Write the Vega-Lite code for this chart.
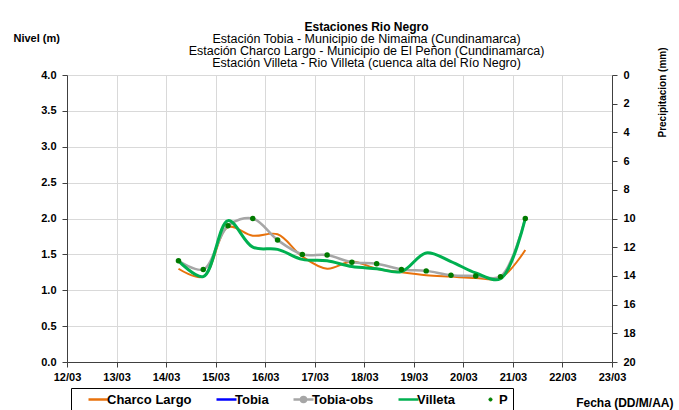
{
  "$schema": "https://vega.github.io/schema/vega-lite/v6.json",
  "width": 545,
  "height": 287,
  "autosize": {"type": "none"},
  "padding": {"left": 67, "top": 75, "right": 67, "bottom": 48},
  "background": "white",
  "title": {
    "text": "Estaciones Rio Negro",
    "subtitle": ["Estación Tobia - Municipio de Nimaima (Cundinamarca)", "Estación Charco Largo - Municipio de El Peñon (Cundinamarca)", "Estación Villeta -  Rio Villeta (cuenca alta del Río Negro)"],
    "anchor": "middle",
    "frame": "group",
    "dx": 27,
    "dy": 44,
    "offset": 6,
    "font": "Liberation Sans",
    "fontSize": 12,
    "fontWeight": "bold",
    "color": "black",
    "subtitleFont": "Liberation Sans",
    "subtitleFontSize": 12.5,
    "subtitleColor": "black",
    "subtitleLineHeight": 12,
    "subtitlePadding": -1
  },
  "config": {
    "view": {"stroke": null},
    "font": "Liberation Sans",
    "axis": {
      "labelFont": "Liberation Sans",
      "labelFontSize": 11,
      "labelFontWeight": "bold",
      "labelColor": "black",
      "labelOverlap": false,
      "titleFont": "Liberation Sans",
      "titleFontSize": 11,
      "titleFontWeight": "bold",
      "titleColor": "black",
      "domainColor": "#404040",
      "tickColor": "#404040",
      "tickSize": 5,
      "gridColor": "#D9D9D9",
      "gridWidth": 1
    },
    "legend": {
      "orient": "none",
      "legendX": 4,
      "legendY": 313,
      "direction": "horizontal",
      "strokeColor": "black",
      "strokeWidth": 1,
      "padding": 5,
      "labelFont": "Liberation Sans",
      "labelFontSize": 13,
      "labelFontWeight": "bold",
      "labelColor": "black",
      "symbolType": "stroke",
      "symbolSize": 400,
      "symbolStrokeWidth": 2.5,
      "symbolOffset": 16,
      "columnPadding": 12,
      "gridAlign": "none",
      "labelOffset": 2
    }
  },
  "data": {
    "values": [
      {"fecha": "2011-03-14T06:00:00", "serie": "Charco Largo", "nivel": 1.30},
      {"fecha": "2011-03-14T18:00:00", "serie": "Charco Largo", "nivel": 1.19},
      {"fecha": "2011-03-15T06:00:00", "serie": "Charco Largo", "nivel": 1.88},
      {"fecha": "2011-03-15T18:00:00", "serie": "Charco Largo", "nivel": 1.76},
      {"fecha": "2011-03-16T06:00:00", "serie": "Charco Largo", "nivel": 1.78},
      {"fecha": "2011-03-16T18:00:00", "serie": "Charco Largo", "nivel": 1.47},
      {"fecha": "2011-03-17T06:00:00", "serie": "Charco Largo", "nivel": 1.30},
      {"fecha": "2011-03-17T18:00:00", "serie": "Charco Largo", "nivel": 1.40},
      {"fecha": "2011-03-18T06:00:00", "serie": "Charco Largo", "nivel": 1.30},
      {"fecha": "2011-03-18T18:00:00", "serie": "Charco Largo", "nivel": 1.25},
      {"fecha": "2011-03-19T06:00:00", "serie": "Charco Largo", "nivel": 1.21},
      {"fecha": "2011-03-19T18:00:00", "serie": "Charco Largo", "nivel": 1.19},
      {"fecha": "2011-03-20T06:00:00", "serie": "Charco Largo", "nivel": 1.17},
      {"fecha": "2011-03-20T18:00:00", "serie": "Charco Largo", "nivel": 1.17},
      {"fecha": "2011-03-21T06:00:00", "serie": "Charco Largo", "nivel": 1.56},
      {"fecha": "2011-03-14T06:00:00", "serie": "Tobia-obs", "nivel": 1.41},
      {"fecha": "2011-03-14T18:00:00", "serie": "Tobia-obs", "nivel": 1.29},
      {"fecha": "2011-03-15T06:00:00", "serie": "Tobia-obs", "nivel": 1.90},
      {"fecha": "2011-03-15T18:00:00", "serie": "Tobia-obs", "nivel": 2.00},
      {"fecha": "2011-03-16T06:00:00", "serie": "Tobia-obs", "nivel": 1.70},
      {"fecha": "2011-03-16T18:00:00", "serie": "Tobia-obs", "nivel": 1.50},
      {"fecha": "2011-03-17T06:00:00", "serie": "Tobia-obs", "nivel": 1.49},
      {"fecha": "2011-03-17T18:00:00", "serie": "Tobia-obs", "nivel": 1.39},
      {"fecha": "2011-03-18T06:00:00", "serie": "Tobia-obs", "nivel": 1.37},
      {"fecha": "2011-03-18T18:00:00", "serie": "Tobia-obs", "nivel": 1.29},
      {"fecha": "2011-03-19T06:00:00", "serie": "Tobia-obs", "nivel": 1.27},
      {"fecha": "2011-03-19T18:00:00", "serie": "Tobia-obs", "nivel": 1.21},
      {"fecha": "2011-03-20T06:00:00", "serie": "Tobia-obs", "nivel": 1.20},
      {"fecha": "2011-03-20T18:00:00", "serie": "Tobia-obs", "nivel": 1.19},
      {"fecha": "2011-03-21T06:00:00", "serie": "Tobia-obs", "nivel": 2.00},
      {"fecha": "2011-03-14T06:00:00", "serie": "Villeta", "nivel": 1.41},
      {"fecha": "2011-03-14T18:00:00", "serie": "Villeta", "nivel": 1.19},
      {"fecha": "2011-03-15T06:00:00", "serie": "Villeta", "nivel": 1.97},
      {"fecha": "2011-03-15T18:00:00", "serie": "Villeta", "nivel": 1.60},
      {"fecha": "2011-03-16T06:00:00", "serie": "Villeta", "nivel": 1.57},
      {"fecha": "2011-03-16T18:00:00", "serie": "Villeta", "nivel": 1.43},
      {"fecha": "2011-03-17T06:00:00", "serie": "Villeta", "nivel": 1.41},
      {"fecha": "2011-03-17T18:00:00", "serie": "Villeta", "nivel": 1.33},
      {"fecha": "2011-03-18T06:00:00", "serie": "Villeta", "nivel": 1.30},
      {"fecha": "2011-03-18T18:00:00", "serie": "Villeta", "nivel": 1.26},
      {"fecha": "2011-03-19T06:00:00", "serie": "Villeta", "nivel": 1.52},
      {"fecha": "2011-03-19T18:00:00", "serie": "Villeta", "nivel": 1.40},
      {"fecha": "2011-03-20T06:00:00", "serie": "Villeta", "nivel": 1.24},
      {"fecha": "2011-03-20T18:00:00", "serie": "Villeta", "nivel": 1.16},
      {"fecha": "2011-03-21T06:00:00", "serie": "Villeta", "nivel": 2.00}
    ]
  },
  "layer": [
    {
      "mark": {"type": "line", "interpolate": "catmull-rom"},
      "encoding": {
        "x": {
          "field": "fecha",
          "type": "temporal",
          "scale": {"domain": [{"year": 2011, "month": "mar", "date": 12}, {"year": 2011, "month": "mar", "date": 23}]},
          "axis": {
            "format": "%d/%m",
            "tickCount": {"interval": "day", "step": 1},
            "labelFlush": false,
            "labelPadding": 4,
            "grid": true,
            "title": "Fecha (DD/M/AA)",
            "titleFontSize": 12,
            "titleAngle": 0,
            "titleAlign": "right",
            "titleBaseline": "middle",
            "titleX": 606,
            "titleY": 40
          }
        },
        "y": {
          "field": "nivel",
          "type": "quantitative",
          "scale": {"domain": [0, 4], "nice": false},
          "axis": {
            "values": [0, 0.5, 1, 1.5, 2, 2.5, 3, 3.5, 4],
            "format": ".1f",
            "grid": true,
            "labelPadding": 6,
            "title": "Nivel (m)",
            "titleAngle": 0,
            "titleAlign": "left",
            "titleBaseline": "middle",
            "titleX": -54,
            "titleY": -37
          }
        },
        "color": {
          "field": "serie",
          "type": "nominal",
          "scale": {
            "domain": ["Charco Largo", "Tobia", "Tobia-obs", "Villeta", "P"],
            "range": ["#E8720C", "#0000FF", "#A6A6A6", "#00B050", "#008000"]
          },
          "legend": {
            "title": null,
            "encode": {
              "symbols": {
                "update": {
                  "shape": {"signal": "datum.value === 'P' ? 'circle' : (datum.value === 'Tobia-obs' ? 'M-1,0H1M0.25,0A0.25,0.25 0 1,1 -0.25,0A0.25,0.25 0 1,1 0.25,0' : 'stroke')"},
                  "fill": {"signal": "datum.value === 'P' || datum.value === 'Tobia-obs' ? '#008000' : 'transparent'"},
                  "size": {"signal": "datum.value === 'P' ? 10 : 400"},
                  "strokeWidth": {"signal": "datum.value === 'P' ? 1 : 2.5"}
                }
              }
            }
          }
        },
        "strokeWidth": {
          "field": "serie",
          "type": "nominal",
          "scale": {"domain": ["Charco Largo", "Tobia-obs", "Villeta"], "range": [2, 3, 3]},
          "legend": null
        }
      }
    },
    {
      "transform": [{"filter": "datum.serie === 'Tobia-obs'"}],
      "mark": {"type": "point", "filled": true, "color": "#007A00", "size": 30, "opacity": 1},
      "encoding": {
        "x": {"field": "fecha", "type": "temporal"},
        "y": {"field": "nivel", "type": "quantitative", "scale": {"domain": [0, 4], "nice": false}, "axis": null}
      }
    },
    {
      "mark": {"type": "point", "filled": true, "color": "#008000", "size": 10},
      "encoding": {
        "x": {"field": "fecha", "type": "temporal"},
        "y": {
          "field": "P",
          "type": "quantitative",
          "scale": {"domain": [0, 20], "reverse": true},
          "axis": {
            "orient": "right",
            "values": [0, 2, 4, 6, 8, 10, 12, 14, 16, 18, 20],
            "grid": false,
            "labelPadding": 6,
            "title": "Precipitacion (mm)",
            "titleFontSize": 10,
            "titleAngle": 270,
            "titleAlign": "center",
            "titleBaseline": "middle",
            "titleX": 50,
            "titleY": 17
          }
        }
      }
    }
  ],
  "resolve": {"scale": {"y": "independent"}}
}
